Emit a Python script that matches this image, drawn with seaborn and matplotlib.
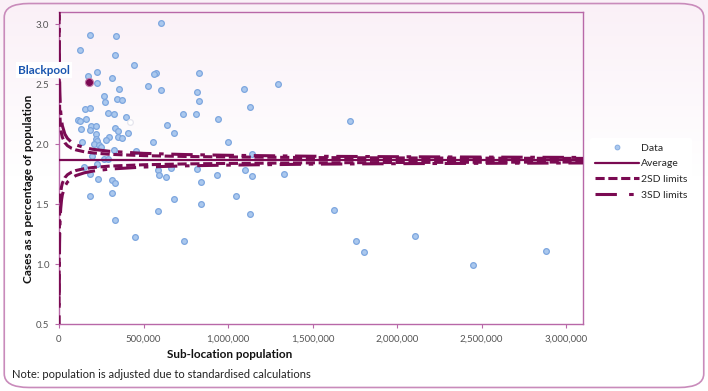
import numpy as np
import pandas as pd
import matplotlib
matplotlib.use("Agg")
import matplotlib.pyplot as plt
from matplotlib.patches import FancyBboxPatch
from matplotlib.lines import Line2D
import seaborn as sns

# sub-location population and cases as % of population
pop = [603000, 183000, 335000, 126000, 331000, 442000, 225000, 172000, 572000, 562000,
       830000, 227000, 312000, 529000, 604000, 355000, 818000, 827000, 1093000, 268000,
       272000, 343000, 371000, 154000, 181000, 292000, 324000, 732000, 812000, 394000,
       114000, 126000, 158000, 939000, 132000, 189000, 217000, 185000, 331000, 347000,
       639000, 221000, 406000, 679000, 296000, 351000, 375000, 221000, 225000, 276000,
       134000, 209000, 237000, 249000, 556000, 1002000, 193000, 457000, 327000, 264000,
       292000, 1128000, 1294000, 1724000, 1144000, 150000, 225000, 181000, 233000, 315000,
       331000, 185000, 312000, 588000, 592000, 631000, 663000, 817000, 840000, 935000,
       1045000, 1100000, 682000, 331000, 450000, 584000, 738000, 840000, 1128000, 1629000,
       1759000, 1807000, 2107000, 2450000, 2880000, 1140000, 1330000]
rate = [3.01, 2.91, 2.90, 2.78, 2.74, 2.66, 2.60, 2.57, 2.59, 2.585,
        2.59, 2.51, 2.55, 2.48, 2.45, 2.46, 2.43, 2.36, 2.46, 2.40,
        2.35, 2.375, 2.365, 2.29, 2.30, 2.26, 2.25, 2.25, 2.25, 2.225,
        2.20, 2.195, 2.21, 2.21, 2.125, 2.15, 2.15, 2.12, 2.13, 2.11,
        2.16, 2.08, 2.09, 2.09, 2.06, 2.06, 2.05, 2.04, 2.025, 2.03,
        2.015, 2.00, 1.99, 1.975, 2.02, 2.015, 1.90, 1.94, 1.95, 1.875,
        1.875, 2.31, 2.50, 2.19, 1.92, 1.81, 1.83, 1.75, 1.71, 1.70,
        1.675, 1.57, 1.59, 1.78, 1.74, 1.725, 1.80, 1.79, 1.68, 1.74,
        1.57, 1.78, 1.54, 1.37, 1.225, 1.44, 1.19, 1.50, 1.42, 1.45,
        1.19, 1.10, 1.235, 0.99, 1.11, 1.73, 1.75]

blackpool_pop = [176000]
blackpool_rate = [2.52]
hollow_pop = [418000]
hollow_rate = [2.18]

average = 1.865

# funnel limits
limit_pop = [500, 1000, 2000, 3500, 5000, 7500, 10000, 15000, 20000, 35000, 50000,
             75000, 100000, 150000, 200000, 300000, 500000, 750000, 1000000,
             1500000, 2000000, 2500000, 3100000]
upper_2sd = [3.075, 2.721, 2.470, 2.322, 2.248, 2.177, 2.136, 2.086, 2.056, 2.010, 1.986,
             1.964, 1.951, 1.935, 1.926, 1.914, 1.903, 1.896, 1.892, 1.887, 1.884, 1.882, 1.880]
lower_2sd = [0.655, 1.009, 1.260, 1.408, 1.482, 1.553, 1.594, 1.644, 1.674, 1.720, 1.744,
             1.766, 1.779, 1.795, 1.804, 1.816, 1.827, 1.834, 1.838, 1.843, 1.846, 1.848, 1.850]
upper_3sd = [3.680, 3.149, 2.773, 2.551, 2.439, 2.334, 2.271, 2.196, 2.152, 2.082, 2.047,
             2.013, 1.993, 1.970, 1.956, 1.939, 1.922, 1.912, 1.906, 1.898, 1.894, 1.891, 1.888]
lower_3sd = [0.050, 0.581, 0.957, 1.179, 1.291, 1.396, 1.459, 1.534, 1.578, 1.648, 1.683,
             1.717, 1.737, 1.760, 1.774, 1.791, 1.808, 1.818, 1.824, 1.832, 1.836, 1.839, 1.842]

x_ticks = [0, 500000, 1000000, 1500000, 2000000, 2500000, 3000000]
y_ticks = [0.5, 1.0, 1.5, 2.0, 2.5, 3.0]

PLUM = "#7a0a52"
FRAME = "#b868a8"
DOT_FACE = "#aac8ee"
DOT_EDGE = "#7ea7df"

sns.set_style("white")
plt.rcParams["font.family"] = ["Lato", "DejaVu Sans"]

df = pd.DataFrame({"pop": pop, "rate": rate})

fig = plt.figure(figsize=(7.08, 3.91), dpi=100)

# pink-to-white background wash
bg = fig.add_axes([0, 0, 1, 1], zorder=-10)
rows = np.linspace(0, 1, 391)
fade = np.clip(rows / 0.45, 0, 1)[:, None]
top_col = np.array([250, 240, 247]) / 255
grad = top_col[None, :] * (1 - fade) + np.ones(3)[None, :] * fade
bg.imshow(grad[:, None, :], aspect="auto", extent=[0, 1, 0, 1])
bg.set_axis_off()

border = FancyBboxPatch((0.006, 0.009), 0.988, 0.982,
                        boxstyle="round,pad=0,rounding_size=0.035",
                        transform=fig.transFigure, fill=False,
                        edgecolor="#c98bbb", linewidth=1.2)
fig.patches.append(border)

ax = fig.add_axes([59 / 708, 1 - 324 / 391, (583 - 59) / 708, (324 - 12) / 391])
ax.set_facecolor("none")

lw = 2.2
l3u, = ax.plot(limit_pop, upper_3sd, color=PLUM, lw=lw, zorder=3)
l3l, = ax.plot(limit_pop, lower_3sd, color=PLUM, lw=lw, zorder=3)
l2u, = ax.plot(limit_pop, upper_2sd, color=PLUM, lw=lw, zorder=3)
l2l, = ax.plot(limit_pop, lower_2sd, color=PLUM, lw=lw, zorder=3)
dash3 = (7, 2.5, 1.5, 2.5)
dash2 = (3, 1.2)
for ln in (l3u, l3l):
    ln.set_dashes(dash3)
for ln in (l2u, l2l):
    ln.set_dashes(dash2)

ax.axhline(average, color=PLUM, lw=1.6, zorder=3)

sns.scatterplot(data=df, x="pop", y="rate", ax=ax, s=17, color=DOT_FACE,
                edgecolor=DOT_EDGE, linewidth=0.9, zorder=2, legend=False)
ax.scatter(hollow_pop, hollow_rate, s=17, color="white", edgecolor="#e6e6ee",
           linewidth=0.9, zorder=2)
ax.scatter(blackpool_pop, blackpool_rate, s=34, color=PLUM, edgecolor="#c27aa8",
           linewidth=0.8, zorder=4)

ax.set_xlim(0, 3100000)
ax.set_ylim(0.5, 3.1)
ax.set_xticks(x_ticks)
ax.set_xticklabels([f"{v:,}" for v in x_ticks])
ax.set_yticks(y_ticks)
ax.set_yticklabels([f"{v:.1f}" for v in y_ticks])
ax.tick_params(axis="both", which="both", length=3, width=0.8, color=FRAME,
               labelsize=7, labelcolor="#555555", direction="out",
               left=True, bottom=True)
ax.tick_params(axis="x", pad=5)
ax.tick_params(axis="y", pad=4)
for side in ["top", "right", "left", "bottom"]:
    ax.spines[side].set_visible(True)
    ax.spines[side].set_color(FRAME)
    ax.spines[side].set_linewidth(1.0)
ax.set_xlabel("")
ax.set_ylabel("")

fig.text(230 / 708, 1 - 355 / 391, "Sub-location population", ha="center", va="center",
         fontsize=8.5, fontweight="bold", color="#111111")
fig.text(29 / 708, 1 - 189 / 391, "Cases as a percentage of population", ha="center",
         va="center", rotation=90, fontsize=8.5, fontweight="bold", color="#111111")
fig.text(12 / 708, 1 - 375 / 391, "Note: population is adjusted due to standardised calculations",
         ha="left", va="center", fontsize=8, color="#222222")
fig.text(44 / 708, 1 - 70 / 391, "Blackpool", ha="center", va="center", fontsize=8.5,
         fontweight="bold", color="#1a56b0",
         bbox=dict(boxstyle="square,pad=0.2", facecolor="white", edgecolor="none"))

handles = [
    Line2D([], [], ls="none", marker="o", markersize=3.5, markerfacecolor=DOT_FACE,
           markeredgecolor=DOT_EDGE, markeredgewidth=0.6),
    Line2D([], [], color=PLUM, lw=1.6),
    Line2D([], [], color=PLUM, lw=lw, dashes=dash2),
    Line2D([], [], color=PLUM, lw=lw, dashes=(7, 4, 1.5, 2.5)),
]
labels = ["Data", "Average", "2SD limits", "3SD limits"]
leg = fig.legend(handles, labels, loc="upper left", bbox_to_anchor=(590 / 708, 1 - 138 / 391),
                 frameon=True, fontsize=7.5, handlelength=4.2, handletextpad=0.15,
                 labelspacing=0.62, borderaxespad=0.0, borderpad=0.5)
leg.get_frame().set_facecolor("white")
leg.get_frame().set_edgecolor("none")
leg.get_frame().set_alpha(1)

fig.savefig("out.png", dpi=100)
